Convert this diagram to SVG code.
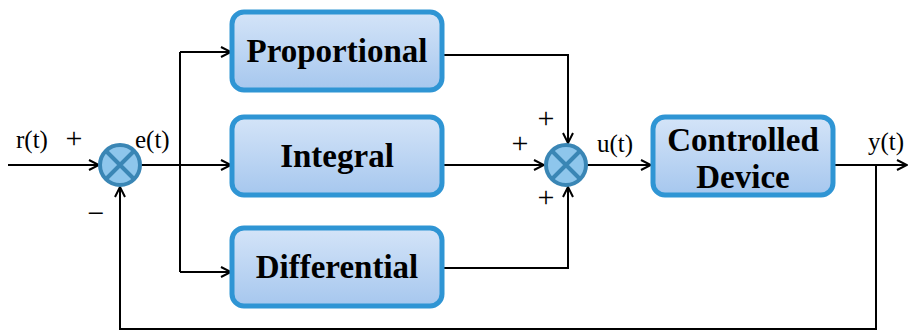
<svg xmlns="http://www.w3.org/2000/svg" width="911" height="333" viewBox="0 0 911 333">
<defs>
<linearGradient id="bg" x1="0" y1="0" x2="0" y2="1">
<stop offset="0" stop-color="#d4e4f8"/>
<stop offset="1" stop-color="#a6c7ee"/>
</linearGradient>
<marker id="ar" viewBox="0 0 12 12" refX="11" refY="6" markerWidth="12" markerHeight="12" markerUnits="userSpaceOnUse" orient="auto">
<path d="M1,1 L11,6 L1,11" fill="none" stroke="#000" stroke-width="2"/>
</marker>
</defs>
<style>
.box{fill:url(#bg);stroke:#2f95d4;stroke-width:5}
.lbl{font-family:"Liberation Serif",serif;font-weight:bold;font-size:33px;fill:#000;text-anchor:middle}
.sig{font-family:"Liberation Serif",serif;font-size:25px;fill:#000}
.sgn{font-family:"Liberation Serif",serif;font-size:30px;fill:#000;text-anchor:middle}
.sum{fill:#8ec6ec;stroke:#3a86b5;stroke-width:4}
.x{stroke:#3a86b5;stroke-width:4}
.ln{fill:none;stroke:#000;stroke-width:2}
</style>
<g id="connectors">
<path class="ln" d="M8,165 H99" marker-end="url(#ar)"/>
<path class="ln" d="M140,165 H231" marker-end="url(#ar)"/>
<path class="ln" d="M180,52 V272"/>
<path class="ln" d="M180,52 H231" marker-end="url(#ar)"/>
<path class="ln" d="M180,272 H231" marker-end="url(#ar)"/>
<path class="ln" d="M443,55 H568 V143" marker-end="url(#ar)"/>
<path class="ln" d="M443,165 H544" marker-end="url(#ar)"/>
<path class="ln" d="M443,268 H568 V187" marker-end="url(#ar)"/>
<path class="ln" d="M587,165 H651" marker-end="url(#ar)"/>
<path class="ln" d="M833,165 H907" marker-end="url(#ar)"/>
<path class="ln" d="M876,165 V329 H120 V187" marker-end="url(#ar)"/>
</g>
<g id="sum1">
<circle class="sum" cx="120" cy="165" r="20"/>
<path class="x" d="M106,151 L134,179 M134,151 L106,179"/>
</g>
<g id="sum2">
<circle class="sum" cx="566" cy="165" r="20"/>
<path class="x" d="M552,151 L580,179 M580,151 L552,179"/>
</g>
<g id="proportional">
<rect class="box" x="232" y="12" width="210" height="78" rx="12"/>
<text class="lbl" x="337" y="62">Proportional</text>
</g>
<g id="integral">
<rect class="box" x="232" y="117" width="210" height="78" rx="12"/>
<text class="lbl" x="337" y="167">Integral</text>
</g>
<g id="differential">
<rect class="box" x="232" y="228" width="210" height="78" rx="12"/>
<text class="lbl" x="337" y="278">Differential</text>
</g>
<g id="controlled">
<rect class="box" x="653" y="117" width="180" height="78" rx="12"/>
<text class="lbl" x="743" y="151">Controlled</text>
<text class="lbl" x="743" y="188">Device</text>
</g>
<g id="labels">
<text class="sig" x="16" y="148">r(t)</text>
<text class="sgn" x="74" y="148">+</text>
<text class="sig" x="135" y="148">e(t)</text>
<text class="sgn" x="96" y="223">−</text>
<text class="sgn" x="546" y="128">+</text>
<text class="sgn" x="520" y="153">+</text>
<text class="sgn" x="546" y="207">+</text>
<text class="sig" x="597" y="152">u(t)</text>
<text class="sig" x="868" y="150">y(t)</text>
</g>
</svg>
